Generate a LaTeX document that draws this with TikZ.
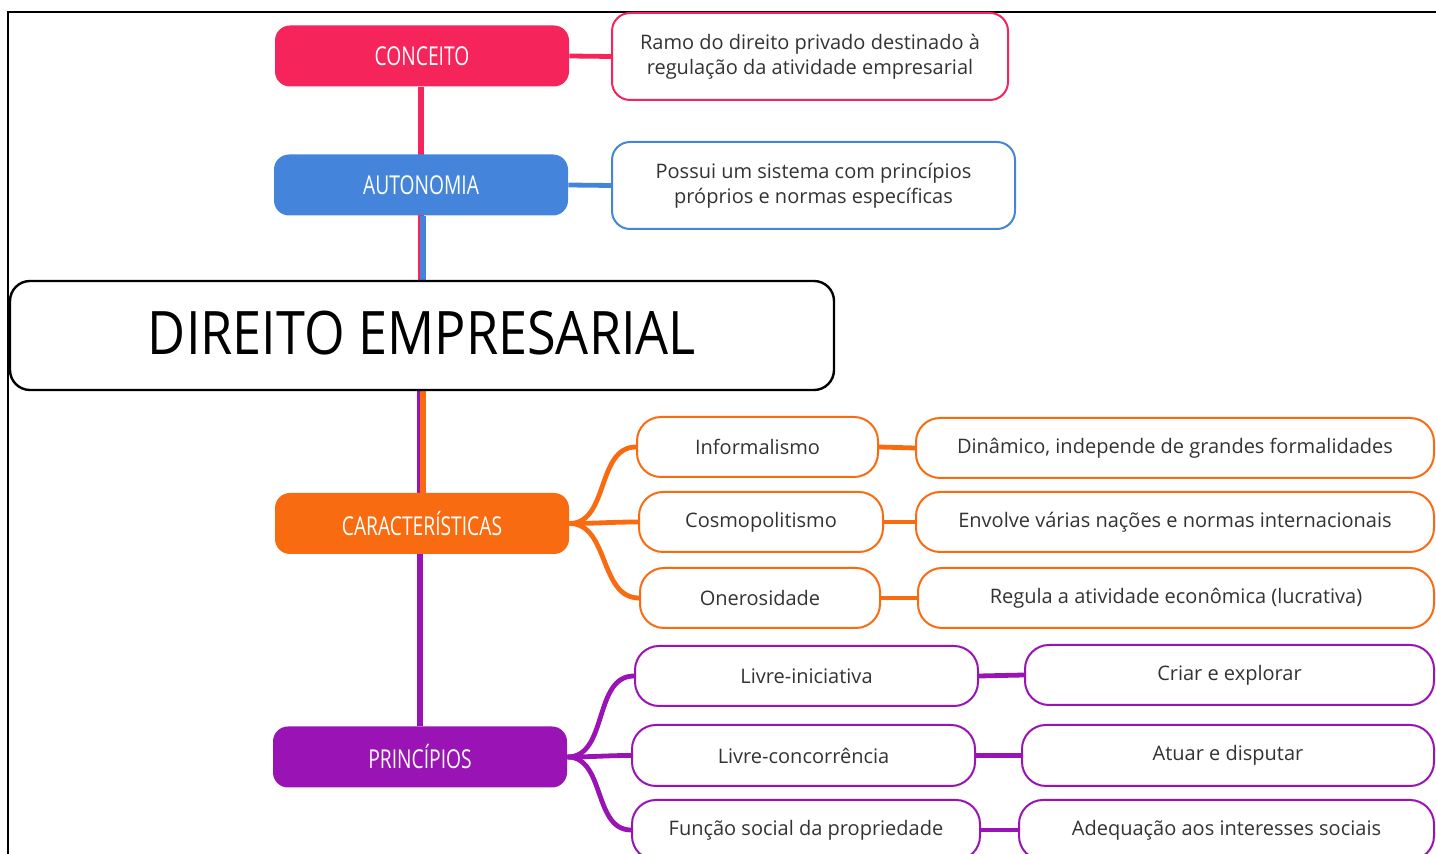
\documentclass[tikz,border=0pt]{standalone}
\usepackage{fontspec}
\setmainfont{Open Sans}
\newfontfamily\headfont[FakeStretch=0.74]{Open Sans}
\newfontfamily\titlefont[FakeStretch=0.87]{Open Sans}
\usetikzlibrary{positioning, backgrounds}
\definecolor{conceitocol}{HTML}{F5245A}
\definecolor{autocol}{HTML}{4485DB}
\definecolor{carcol}{HTML}{F96B10}
\definecolor{princol}{HTML}{9A13B4}
\definecolor{textcol}{HTML}{333333}

\tikzset{
  topic/.style={fill=#1, rounded corners=7.5pt, inner sep=0pt, text=white,
    font=\headfont\fontsize{13}{15}\selectfont, minimum width=147pt, minimum height=30.5pt},
  leaf/.style={draw=#1, line width=1pt, fill=white, rounded corners=12pt, inner sep=0pt,
    text=textcol, font=\fontsize{10}{12.5}\selectfont, minimum height=30pt, align=center},
  branch/.style={draw=#1, line width=2.4pt},
  trunk/.style={draw=#1, line width=3pt},
}

\begin{document}
\begin{tikzpicture}[x=0.5pt, y=-0.5pt]
    \useasboundingbox (0,0) rectangle (1436,854);

    % frame
    \draw[line width=0.9pt] (8,854) -- (8,12) -- (1436,12);

    % main topics
    \node[topic=conceitocol] (conc) at (422,56) {CONCEITO};
    \node[topic=autocol] (auto) at (421,185) {AUTONOMIA};
    \node[draw, line width=1.2pt, fill=white, rounded corners=10pt, inner sep=0pt,
          minimum width=412pt, minimum height=54.5pt,
          font=\titlefont\fontsize{30}{36}\selectfont] (dir) at (422,335.5) {\raisebox{2.5pt}{DIREITO EMPRESARIAL}};
    \node[topic=carcol] (car) at (422,523.5) {CARACTERÍSTICAS};
    \node[topic=princol] (prin) at (420,757) {PRINCÍPIOS};

    % descriptions of conceito / autonomia
    \node[leaf=conceitocol, rounded corners=9pt, minimum width=198pt, minimum height=43.5pt]
        (concD) at (810,56.5) {Ramo do direito privado destinado à\\regulação da atividade empresarial};
    \node[leaf=autocol, rounded corners=9pt, minimum width=201.5pt, minimum height=43.5pt]
        (autoD) at (813.5,185.5) {Possui um sistema com princípios\\próprios e normas específicas};

    % caracteristicas
    \node[leaf=carcol, minimum width=120.5pt] (inf) at (757.5,447) {Informalismo};
    \node[leaf=carcol, minimum width=122pt] (cos) at (761,522) {Cosmopolitismo};
    \node[leaf=carcol, minimum width=120pt] (one) at (760,598) {Onerosidade};
    \node[leaf=carcol, minimum width=259pt] (infD) at (1175,448) {Dinâmico, independe de grandes formalidades};
    \node[leaf=carcol, minimum width=259pt] (cosD) at (1175,522) {Envolve várias nações e normas internacionais};
    \node[leaf=carcol, minimum width=258pt] (oneD) at (1176,598) {Regula a atividade econômica (lucrativa)};

    % principios
    \node[leaf=princol, minimum width=171.5pt] (li) at (806.5,676) {Livre-iniciativa};
    \node[leaf=princol, minimum width=171.5pt, minimum height=30.5pt] (lc) at (803.5,755.5) {Livre-concorrência};
    \node[leaf=princol, minimum width=174pt] (fs) at (806,830) {Função social da propriedade};
    \node[leaf=princol, minimum width=204.5pt] (liD) at (1229.5,675) {Criar e explorar};
    \node[leaf=princol, minimum width=206pt, minimum height=30.5pt] (lcD) at (1228,755.5) {Atuar e disputar};
    \node[leaf=princol, minimum width=207.5pt] (fsD) at (1226.5,830) {Adequação aos interesses sociais};

    \begin{scope}[on background layer]
        % trunk
        \draw[trunk=conceitocol] ([xshift=-0.5pt]conc.south) -- ([xshift=-0.5pt]conc.south |- dir.north);
        \draw[trunk=autocol] ([xshift=1pt]auto.south) -- ([xshift=1pt]auto.south |- dir.north);
        \draw[trunk=princol] ([xshift=-1pt]dir.south) -- ([xshift=-1pt]dir.south |- prin.north);
        \draw[trunk=carcol] ([xshift=0.5pt]dir.south) -- ([xshift=0.5pt]dir.south |- car.north);

        % branches
        \draw[branch=conceitocol] (conc.east) -- (concD.west);
        \draw[branch=autocol] (auto.east) -- (autoD.west);
        \foreach \a in {inf, cos, one}
            \draw[branch=carcol] (car.east) to[out=0, in=180] (\a.west);
        \foreach \a in {li, lc, fs}
            \draw[branch=princol] (prin.east) to[out=0, in=180] (\a.west);
        \draw[branch=carcol] (inf.east) -- (infD.west);
        \draw[branch=carcol] (cos.east) -- (cosD.west);
        \draw[branch=carcol] (one.east) -- (oneD.west);
        \draw[branch=princol] (li.east) -- (liD.west);
        \draw[branch=princol] (lc.east) -- (lcD.west);
        \draw[branch=princol] (fs.east) -- (fsD.west);
    \end{scope}
\end{tikzpicture}
\end{document}
